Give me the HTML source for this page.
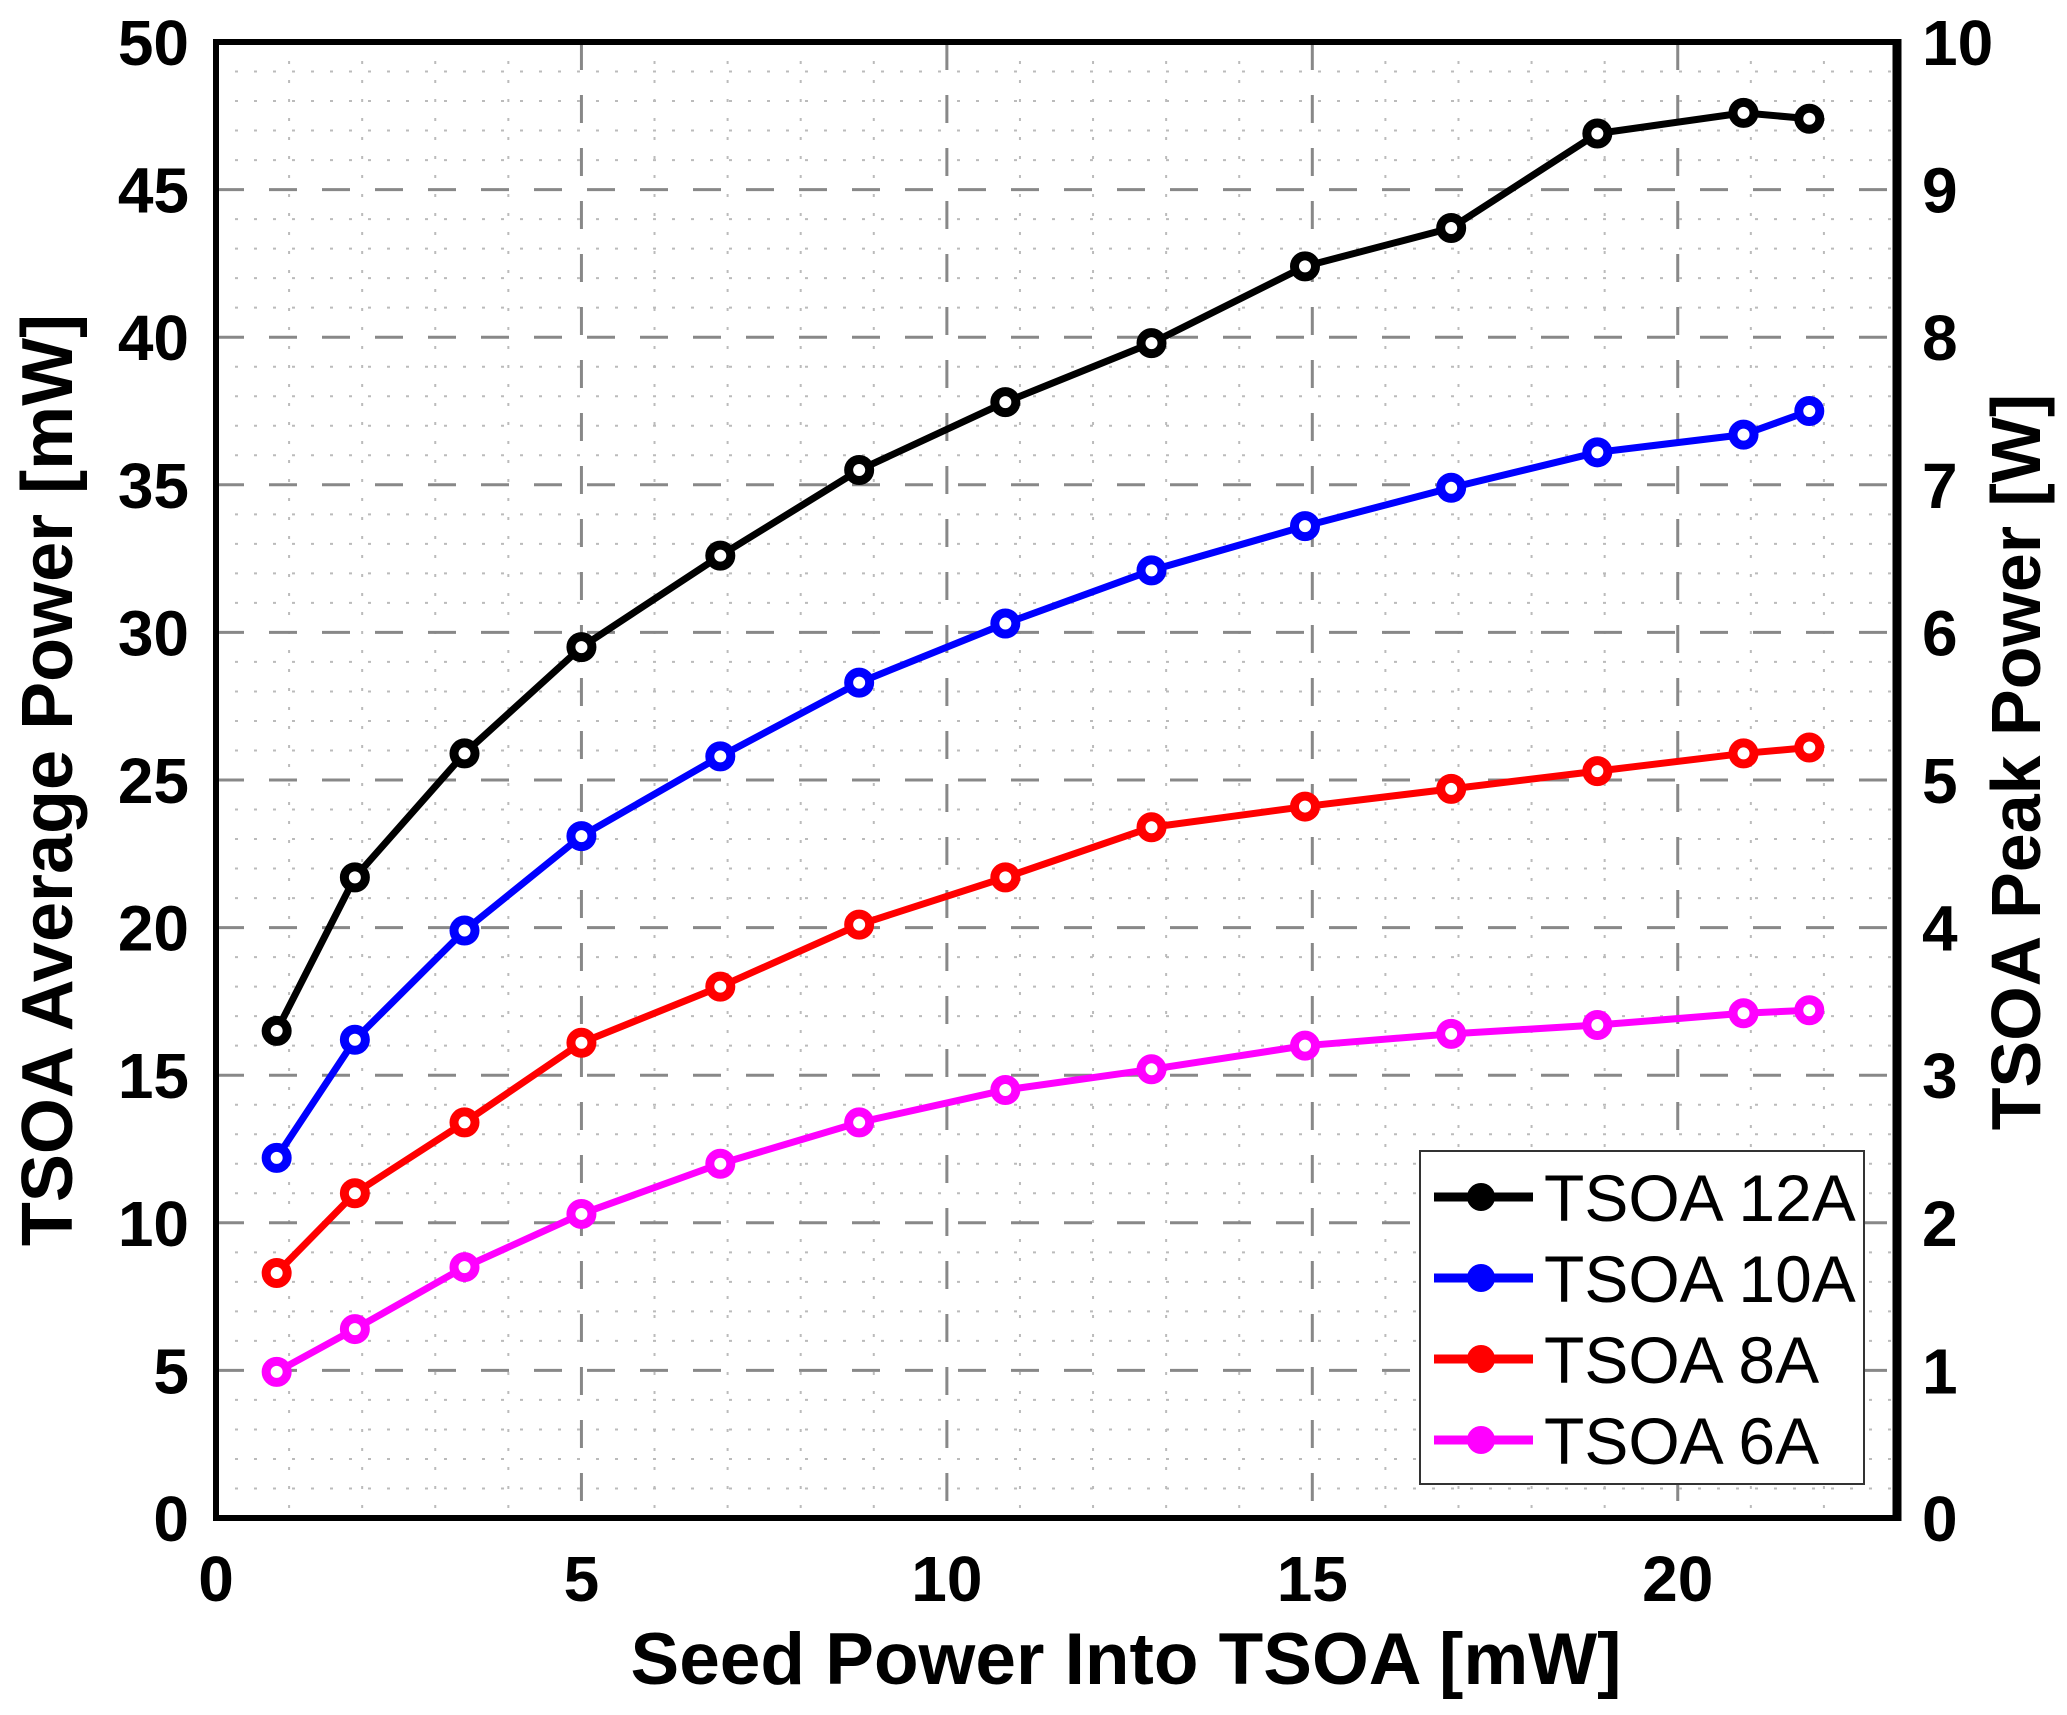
<!DOCTYPE html>
<html><head><meta charset="utf-8"><style>
html,body{margin:0;padding:0;background:#fff;}
svg{display:block;font-family:"Liberation Sans",Arial,sans-serif;}
</style></head><body>
<svg id="chart" width="2067" height="1715" viewBox="0 0 2067 1715" xmlns="http://www.w3.org/2000/svg">
<g id="grid"></g>
<g id="series"></g>
<g id="axes"></g>
<g id="legend"></g>
</svg>
<script>
const xValues=[0.83,1.9,3.4,5.0,6.9,8.8,10.8,12.8,14.9,16.9,18.9,20.9,21.8];
const series12A=[16.5,21.7,25.9,29.5,32.6,35.5,37.8,39.8,42.4,43.7,46.9,47.6,47.4];
const series10A=[12.2,16.2,19.9,23.1,25.8,28.3,30.3,32.1,33.6,34.9,36.1,36.7,37.5];
const series8A=[8.3,11.0,13.4,16.1,18.0,20.1,21.7,23.4,24.1,24.7,25.3,25.9,26.1];
const series6A=[4.95,6.4,8.5,10.3,12.0,13.4,14.5,15.2,16.0,16.4,16.7,17.1,17.2];
const seriesNames=["TSOA 12A","TSOA 10A","TSOA 8A","TSOA 6A"];
const seriesColors=["#000000","#0000ff","#ff0000","#ff00ff"];
const xTicks=[0,5,10,15,20];
const yTicks=[0,5,10,15,20,25,30,35,40,45,50];
const y2Ticks=[0,1,2,3,4,5,6,7,8,9,10];

const NS="http://www.w3.org/2000/svg";
const L=216,R=1897,T=42,B=1518,XMAX=23,YMAX=50;
const sx=v=>L+v*(R-L)/XMAX, sy=v=>B-v*(B-T)/YMAX;
function mk(tag,attrs,parent){const e=document.createElementNS(NS,tag);for(const k in attrs)e.setAttribute(k,attrs[k]);parent.appendChild(e);return e;}
const grid=document.getElementById('grid'),ser=document.getElementById('series'),axes=document.getElementById('axes'),leg=document.getElementById('legend');

for(let i=1;i<XMAX;i++){
  const major=i%5===0;
  const g=mk('line',{x1:sx(i),x2:sx(i),y1:T,y2:B,stroke:major?'#888':'#bbb','stroke-width':major?3:2,'stroke-dasharray':major?'28,25':'3,16'},grid);
  
  
}
for(let i=1;i<YMAX;i++){
  const major=i%5===0;
  const g=mk('line',{x1:L,x2:R,y1:sy(i),y2:sy(i),stroke:major?'#888':'#bbb','stroke-width':major?3:2,'stroke-dasharray':major?'28,25':'3,16'},grid);
  
  
}

const all=[series12A,series10A,series8A,series6A];
all.forEach((ys,si)=>{
  const pts=xValues.map((x,i)=>sx(x)+','+sy(ys[i])).join(' ');
  const pl=mk('polyline',{points:pts,fill:'none',stroke:seriesColors[si],'stroke-width':7,'stroke-linejoin':'round'},ser);
  
  
  xValues.forEach((x,i)=>{
    const c=mk('circle',{cx:sx(x),cy:sy(ys[i]),r:10.5,fill:'#fff',stroke:seriesColors[si],'stroke-width':9},ser);
    
    
  });
});

const fr=mk('path',{d:`M${L},${T} L${L},${B} L${R},${B} L${R},${T} Z`,fill:'none',stroke:'#000','stroke-width':6},axes);


const rb=mk('line',{x1:R,x2:R,y1:T-3,y2:B+3,stroke:'#000','stroke-width':9},axes);



xTicks.forEach(v=>{
  const t=mk('text',{x:sx(v),y:1601,'text-anchor':'middle','font-size':64,'font-weight':'bold'},axes);
  t.textContent=v;
  
  
});
yTicks.forEach(v=>{
  const t=mk('text',{x:189,y:sy(v)+23,'text-anchor':'end','font-size':64,'font-weight':'bold'},axes);
  t.textContent=v;
  
  
});
y2Ticks.forEach(v=>{
  const t=mk('text',{x:1922,y:B-v*(B-T)/10+23,'text-anchor':'start','font-size':64,'font-weight':'bold'},axes);
  t.textContent=v;
  
  
});

const xt=mk('text',{x:1126,y:1684,'text-anchor':'middle','font-size':73,'font-weight':'bold'},axes);
xt.textContent='Seed Power Into TSOA [mW]';


const yt=mk('text',{x:0,y:0,'text-anchor':'middle','font-size':72,'font-weight':'bold',transform:'translate(72,780) rotate(-90)'},axes);
yt.textContent='TSOA Average Power [mW]';


const y2t=mk('text',{x:0,y:0,'text-anchor':'middle','font-size':70,'font-weight':'bold',transform:'translate(2040,762) rotate(-90)'},axes);
y2t.textContent='TSOA Peak Power [W]';



const box=mk('rect',{x:1420,y:1151,width:444,height:333,fill:'#fff',stroke:'#333','stroke-width':2},leg);


seriesNames.forEach((n,i)=>{
  const y=1197+i*81;
  const g=mk('g',{},leg);
  
  
  mk('line',{x1:1434,x2:1533,y1:y,y2:y,stroke:seriesColors[i],'stroke-width':9},g);
  mk('circle',{cx:1481,cy:y,r:10,fill:seriesColors[i],stroke:seriesColors[i],'stroke-width':8},g);
  const t=mk('text',{x:1544,y:y+24,'font-size':66},g);
  t.textContent=n;
});
</script>
</body></html>
